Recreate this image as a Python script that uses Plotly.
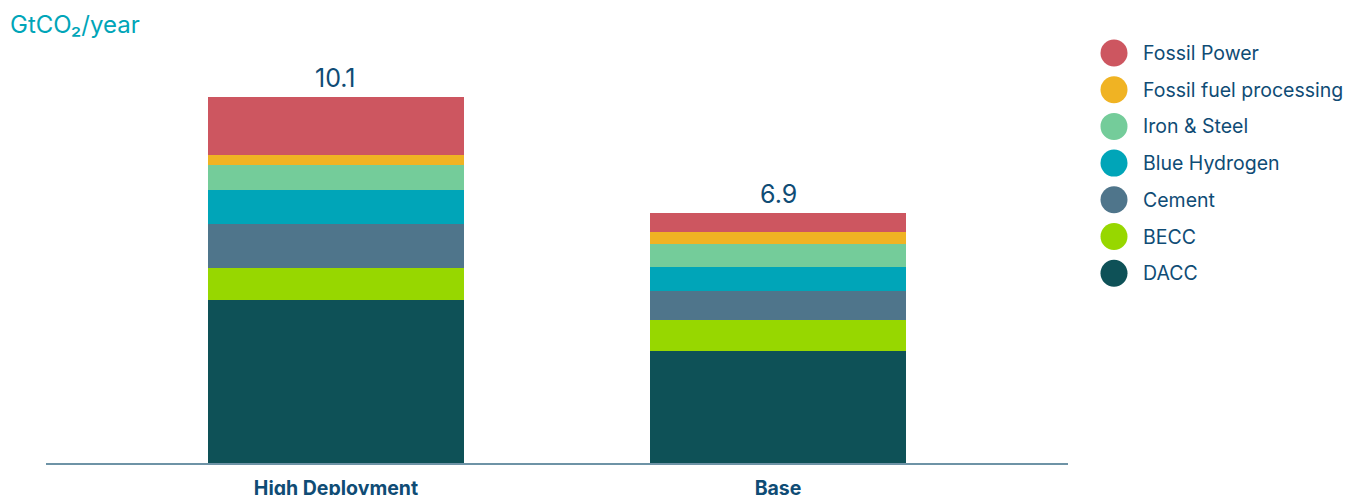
import plotly.graph_objects as go

categories = ["High Deployment", "Base"]
series_names = ["DACC", "BECC", "Cement", "Blue Hydrogen", "Iron & Steel",
                "Fossil fuel processing", "Fossil Power"]
dacc = [4.50, 3.09]
becc = [0.88, 0.86]
cement = [1.21, 0.80]
blue_hydrogen = [0.94, 0.66]
iron_steel = [0.68, 0.64]
fossil_fuel_processing = [0.28, 0.32]
fossil_power = [1.61, 0.53]
total_labels = ["10.1", "6.9"]
unit_label = "GtCO₂/year"

values = [dacc, becc, cement, blue_hydrogen, iron_steel,
          fossil_fuel_processing, fossil_power]
colors = ["#0e5157", "#97d700", "#4f758b", "#00a5b8", "#74cc9a",
          "#f0b323", "#cd5660"]

TEXT = "#0f4c75"
FONT = "Inter"

fig = go.Figure()
for name, vals, col in zip(series_names, values, colors):
    fig.add_trace(go.Bar(
        x=categories, y=vals, name=name, marker=dict(color=col, line=dict(width=0)),
        width=0.58, showlegend=False,
    ))

L, R, T, B = 46, 278, 46, 32
W, H = 1346, 514
E = H - 19          # effective drawn height observed in the viewer
pw, ph = W - L - R, E - T - B
def px_x(p):
    return (p - L) / pw
def px_y(p):
    return (E - B - p) / ph

totals = [sum(v[i] for v in values) for i in range(len(categories))]
annotations = []
for cat, tot, lab in zip(categories, totals, total_labels):
    annotations.append(dict(x=cat, y=tot, text=lab, showarrow=False,
                            xref="x", yref="y", yanchor="bottom", yshift=2,
                            font=dict(family=FONT, size=25, color=TEXT)))

annotations.append(dict(x=px_x(8), y=px_y(24), xref="paper", yref="paper", text=unit_label,
                        showarrow=False, xanchor="left", yanchor="middle",
                        font=dict(family=FONT, size=24, color="#00a5b8")))

shapes = []
leg_y0, leg_dy = 53, 36.7
for i, (name, col) in enumerate(zip(series_names[::-1], colors[::-1])):
    cy = leg_y0 + i * leg_dy
    shapes.append(dict(type="circle", xref="paper", yref="paper",
                       xsizemode="pixel", ysizemode="pixel",
                       xanchor=px_x(1114), yanchor=px_y(cy),
                       x0=-13.5, x1=13.5, y0=-13.5, y1=13.5,
                       fillcolor=col, line=dict(width=0)))
    annotations.append(dict(x=px_x(1141), y=px_y(cy), xref="paper", yref="paper",
                            text=name, showarrow=False, xanchor="left", yanchor="middle",
                            font=dict(family=FONT, size=19.5, color=TEXT)))

fig.update_layout(
    width=W, height=H, autosize=False,
    margin=dict(l=L, r=R, t=T, b=B + (H - E)),
    barmode="stack",
    plot_bgcolor="white", paper_bgcolor="white",
    showlegend=False,
    shapes=shapes,
    annotations=annotations,
    xaxis=dict(range=[-0.656, 1.656], showline=True, linecolor="#6e93a6", linewidth=2,
               ticks="", showgrid=False, ticklabelstandoff=7,
               tickfont=dict(family=FONT, size=19.5, color=TEXT, weight="bold")),
    yaxis=dict(range=[0, 11.5], showgrid=False, showticklabels=False,
               zeroline=False, showline=False),
)

fig.write_html("out.html",
               config={"responsive": False, "displayModeBar": False},
               post_script="document.body.style.margin='0';document.body.style.overflow='hidden';")
